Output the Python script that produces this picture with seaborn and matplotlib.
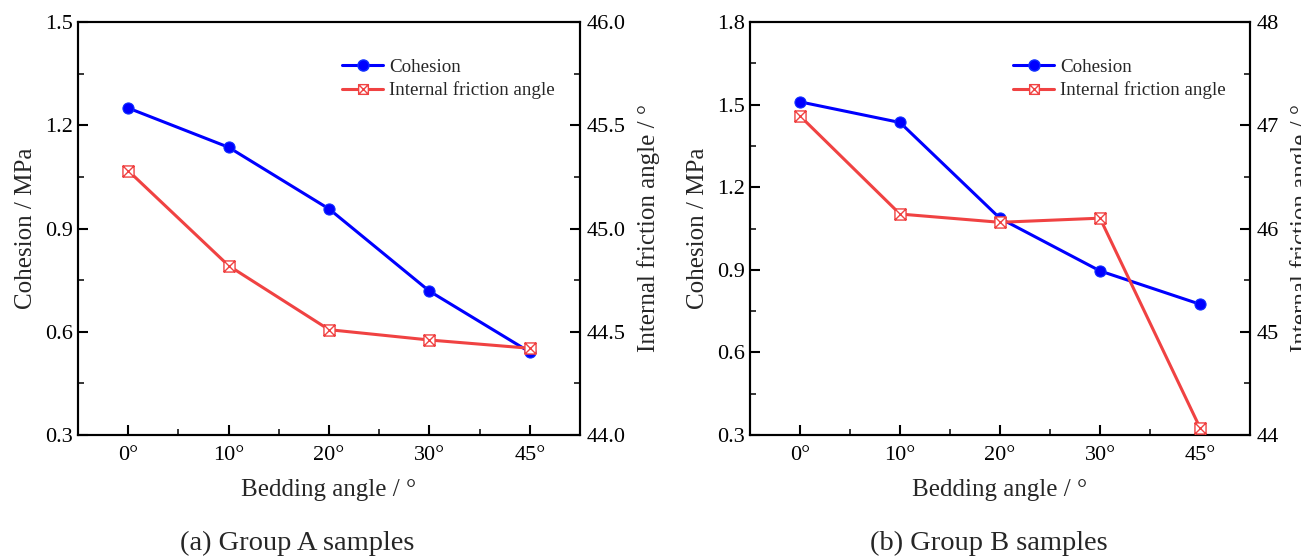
import numpy as np
import pandas as pd
import matplotlib
matplotlib.use("Agg")
import matplotlib.pyplot as plt
import seaborn as sns
from matplotlib.path import Path
from matplotlib.lines import Line2D
from matplotlib.ticker import MultipleLocator, AutoMinorLocator

angles = ["0°", "10°", "20°", "30°", "45°"]
cohesion_a = [1.250, 1.136, 0.957, 0.718, 0.541]
friction_a = [45.28, 44.82, 44.51, 44.46, 44.42]
cohesion_b = [1.510, 1.435, 1.087, 0.896, 0.775]
friction_b = [47.09, 46.14, 46.06, 46.10, 44.07]
captions = ["(a) Group A samples", "(b) Group B samples"]

sns.set_style("ticks")
plt.rcParams["font.family"] = ["Liberation Serif", "DejaVu Serif"]
plt.rcParams["mathtext.fontset"] = "stix"

BLUE = "#0000FF"
RED = "#F04242"

# square with an X inside
verts = [(-1, -1), (1, -1), (1, 1), (-1, 1), (-1, -1),
         (-1, -1), (1, 1), (-1, 1), (1, -1)]
codes = [Path.MOVETO, Path.LINETO, Path.LINETO, Path.LINETO, Path.CLOSEPOLY,
         Path.MOVETO, Path.LINETO, Path.MOVETO, Path.LINETO]
sqx = Path(verts, codes)

fig = plt.figure(figsize=(13.01, 5.58), dpi=100)
specs = [
    dict(rect=[78/1301, 123/558, 502/1301, 413/558], coh=cohesion_a, fri=friction_a,
         ylim=(0.3, 1.5), ystep=0.3, y2lim=(44.0, 46.0), y2step=0.5, y2fmt="%.1f",
         capx=297/1301),
    dict(rect=[750/1301, 123/558, 500/1301, 413/558], coh=cohesion_b, fri=friction_b,
         ylim=(0.3, 1.8), ystep=0.3, y2lim=(44, 48), y2step=1, y2fmt="%d",
         capx=989/1301),
]
LFS = 18
for i, s in enumerate(specs):
    ax = fig.add_axes(s["rect"])
    ax2 = ax.twinx()
    df = pd.DataFrame({"angle": angles, "coh": s["coh"], "fri": s["fri"]})
    sns.lineplot(data=df, x="angle", y="coh", ax=ax, color=BLUE, lw=2.2, sort=False,
                 marker="o", markersize=8, markerfacecolor=BLUE, markeredgecolor="#1030ff",
                 markeredgewidth=0.8, legend=False, zorder=3)
    sns.lineplot(data=df, x="angle", y="fri", ax=ax2, color=RED, lw=2.2, sort=False,
                 marker=sqx, markersize=8, markerfacecolor="white", markeredgecolor=RED,
                 markeredgewidth=1.0, legend=False, zorder=3)
    ax.set_xlim(-0.5, 4.5)
    ax.set_ylim(*s["ylim"])
    ax2.set_ylim(*s["y2lim"])
    ax.set_xticks(range(len(angles)))
    ax.set_xticklabels(angles)
    ax.xaxis.set_minor_locator(MultipleLocator(0.5))
    ax.yaxis.set_major_locator(MultipleLocator(s["ystep"]))
    ax.yaxis.set_minor_locator(AutoMinorLocator(2))
    ax.yaxis.set_major_formatter(matplotlib.ticker.FormatStrFormatter("%.1f"))
    ax2.yaxis.set_major_locator(MultipleLocator(s["y2step"]))
    ax2.yaxis.set_minor_locator(AutoMinorLocator(2))
    ax2.yaxis.set_major_formatter(matplotlib.ticker.FormatStrFormatter(s["y2fmt"]))
    for a in (ax, ax2):
        for sp in a.spines.values():
            sp.set_linewidth(1.5)
            sp.set_color("black")
            sp.set_visible(True)
        a.tick_params(which="major", direction="in", length=7, width=1.5, labelsize=16,
                      colors="black")
        a.tick_params(which="minor", direction="in", length=4, width=1.3)
    ax.tick_params(axis="x", pad=8)
    ax2.tick_params(axis="y", pad=5)
    ax.set_xlabel("Bedding angle / °", fontsize=LFS, labelpad=10)
    ax.set_ylabel("Cohesion / MPa", fontsize=LFS, labelpad=6)
    ax2.set_ylabel("Internal friction angle / °", fontsize=LFS, labelpad=8)
    fig.text(s["capx"], 1 - 543/558, captions[i], ha="center", va="center", fontsize=20.5)
    h1 = Line2D([], [], color=BLUE, lw=2.2, marker="o", markersize=8,
                markerfacecolor=BLUE, markeredgecolor="#1030ff")
    h2 = Line2D([], [], color=RED, lw=2.2, marker=sqx, markersize=7,
                markerfacecolor="white", markeredgecolor=RED, markeredgewidth=1.0)
    ax2.legend([h1, h2], ["Cohesion", "Internal friction angle"], loc="upper left",
               bbox_to_anchor=(0.51, 0.93), frameon=False, fontsize=13.7, handlelength=2.2,
               handletextpad=0.3, labelspacing=0.3, borderaxespad=0)

fig.savefig("out.png", dpi=100)
